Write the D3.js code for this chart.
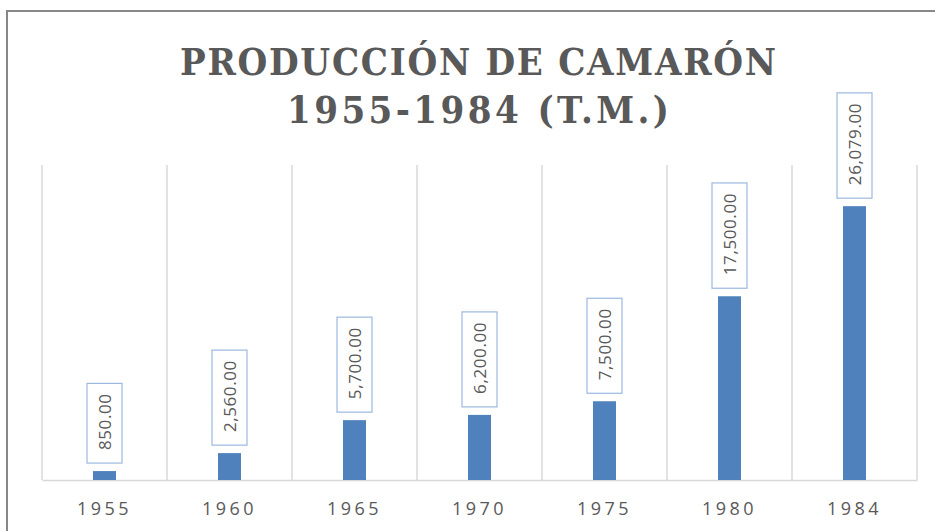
<!DOCTYPE html>
<html>
<head>
<meta charset="utf-8">
<script src="https://cdn.jsdelivr.net/npm/d3@7"></script>
<style>
  body { margin: 0; background: #fff; }
  svg { display: block; }
</style>
</head>
<body>
<div id="chart"></div>
<script>
// data
var years = ["1955", "1960", "1965", "1970", "1975", "1980", "1984"];
var tons = [850, 2560, 5700, 6200, 7500, 17500, 26079];
var titleLines = ["PRODUCCIÓN DE CAMARÓN", "1955-1984 (T.M.)"];

var width = 935, height = 531;
var plotLeft = 42, plotRight = 917, plotTop = 165, plotBottom = 480;

var svg = d3.select("#chart").append("svg")
    .attr("width", width).attr("height", height);

// outer frame (runs off the picture on right and bottom)
svg.append("rect")
    .attr("x", 7).attr("y", 11)
    .attr("width", 1000).attr("height", 1000)
    .attr("fill", "none").attr("stroke", "#878787").attr("stroke-width", 2);

// title
var titleWidths = [596, 382];
svg.selectAll(".title").data(titleLines).enter().append("text")
    .attr("class", "title")
    .attr("x", 478)
    .attr("y", function(d, i) { return 75 + i * 48; })
    .attr("text-anchor", "middle")
    .attr("textLength", function(d, i) { return titleWidths[i]; })
    .attr("lengthAdjust", "spacing")
    .style("font-family", "'DejaVu Serif Condensed', 'DejaVu Serif', serif")
    .style("font-weight", "bold")
    .style("font-size", "38px")
    .attr("fill", "#595959")
    .text(function(d) { return d; });

var xScale = d3.scaleBand().domain(years).range([plotLeft, plotRight]).paddingInner(0).paddingOuter(0);
var yScale = d3.scaleLinear().domain([0, 30000]).range([plotBottom, plotTop]);

// vertical gridlines between categories
var edges = years.map(function(d) { return xScale(d); }).concat([plotRight]);
svg.append("g").selectAll("line").data(edges).enter().append("line")
    .attr("x1", function(d) { return d; }).attr("x2", function(d) { return d; })
    .attr("y1", plotTop).attr("y2", plotBottom)
    .attr("stroke", "#d9d9d9").attr("stroke-width", 1.5);

// x axis
var xAxis = d3.axisBottom(xScale).tickSize(0).tickPadding(22);
var gx = svg.append("g").attr("transform", "translate(0," + plotBottom + ")").call(xAxis);
gx.select(".domain").attr("stroke", "#d9d9d9").attr("stroke-width", 1.5);
gx.selectAll("text")
    .style("font-family", "'Open Sans', 'Noto Sans', sans-serif")
    .style("font-size", "18px")
    .style("letter-spacing", "3.4px")
    .attr("fill", "#595959");

// bars
var barW = 23;
svg.append("g").selectAll("rect").data(tons).enter().append("rect")
    .attr("x", function(d, i) { return xScale(years[i]) + xScale.bandwidth() / 2 - barW / 2; })
    .attr("y", function(d) { return yScale(d); })
    .attr("width", barW)
    .attr("height", function(d) { return plotBottom - yScale(d); })
    .attr("fill", "#4f81bd");

// data labels in boxes, rotated
var fmt = d3.format(",.2f");
var labels = svg.append("g").selectAll("g").data(tons).enter().append("g");
labels.each(function(d, i) {
    var g = d3.select(this);
    var cx = xScale(years[i]) + xScale.bandwidth() / 2;
    var boxBottom = yScale(d) - 8;
    var box = g.append("rect");
    var t = g.append("text")
        .attr("transform", "translate(" + (cx + 6) + "," + (boxBottom - 13) + ") rotate(-90)")
        .style("font-family", "'Open Sans', 'Noto Sans', sans-serif")
        .style("font-size", "17px")
        .style("letter-spacing", "0.6px")
        .attr("fill", "#595959")
        .text(fmt(d));
    var len = t.node().getComputedTextLength();
    box.attr("x", cx - 17.5).attr("y", boxBottom - len - 23)
        .attr("width", 35).attr("height", len + 23)
        .attr("fill", "#fff").attr("stroke", "#9cb8df").attr("stroke-width", 1.2);
});
</script>
</body>
</html>
